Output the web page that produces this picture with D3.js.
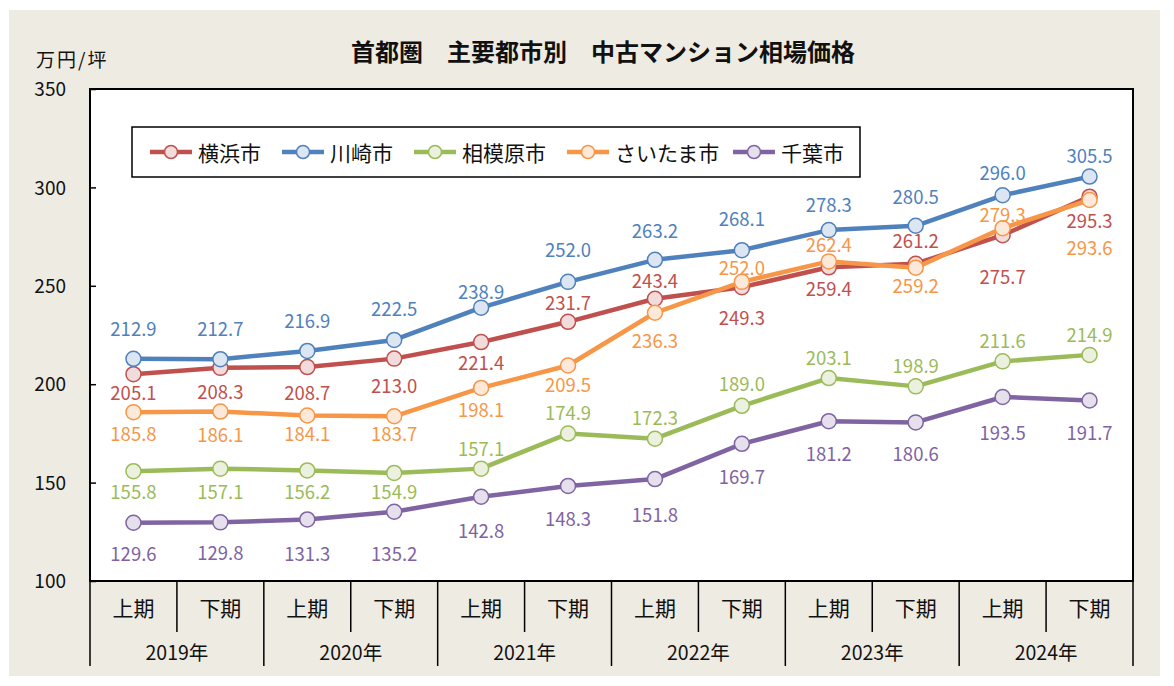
<!DOCTYPE html>
<html><head><meta charset="utf-8">
<script src="https://cdn.jsdelivr.net/npm/d3@7"></script>
<style>html,body{margin:0;padding:0;background:#fff;}svg{display:block;}</style>
</head><body>
<script>
const years = ["2019年","2020年","2021年","2022年","2023年","2024年"];
const halves = ["上期","下期"];
const periods = years.flatMap(y => halves.map(h => y + h));
const seriesNames = ["横浜市","川崎市","相模原市","さいたま市","千葉市"];
const yokohama   = [205.1,208.3,208.7,213.0,221.4,231.7,243.4,249.3,259.4,261.2,275.7,295.3];
const kawasaki   = [212.9,212.7,216.9,222.5,238.9,252.0,263.2,268.1,278.3,280.5,296.0,305.5];
const sagamihara = [155.8,157.1,156.2,154.9,157.1,174.9,172.3,189.0,203.1,198.9,211.6,214.9];
const saitama    = [185.8,186.1,184.1,183.7,198.1,209.5,236.3,252.0,262.4,259.2,279.3,293.6];
const chiba      = [129.6,129.8,131.3,135.2,142.8,148.3,151.8,169.7,181.2,180.6,193.5,191.7];
const yTicks = [100,150,200,250,300,350];

// layout / style (not data)
const colors = ["#C0504D","#4F81BD","#9BBB59","#F79646","#8064A2"];
const fills  = ["#F2DCDB","#DCE6F2","#EBF1DE","#FDE9D9","#E5E0EC"];
const labelDy = [
  [18,23,25,26,20,-20,-19,30,21,-24,41,23],
  [-31,-31,-31,-32,-17,-33,-30,-32,-26,-30,-23,-22],
  [20,22,21,18,-21,-22,-22,-23,-21,-21,-21,-21],
  [21,22,18,17,21,18,27,-15,-17,17,-14,47],
  [30,30,34,41,33,32,35,32,32,31,35,31]
];
const legendX = [150,282,414,567,733];

const W=1174,H=686;
const L=90,R=1133,T=89,B=581;
const svg = d3.select("body").append("svg").attr("width",W).attr("height",H)
  .style("font-family","'Noto Sans CJK JP','Noto Sans',sans-serif");

svg.append("rect").attr("x",9).attr("y",10).attr("width",1151).attr("height",666).attr("fill","#EEEBE2");
svg.append("rect").attr("x",L).attr("y",T).attr("width",R-L).attr("height",B-T).attr("fill","#fff");

const x = d3.scaleBand().domain(periods).range([L,R]).padding(0);
const y = d3.scaleLinear().domain([100,350]).range([B,T]);

// title
svg.append("text").attr("x",603).attr("y",50).attr("text-anchor","middle").attr("dominant-baseline","central")
  .attr("font-size",24).attr("font-weight","bold").attr("fill","#111").text("首都圏　主要都市別　中古マンション相場価格");
svg.append("text").attr("x",36).attr("y",58).attr("dominant-baseline","central")
  .attr("font-size",19).attr("letter-spacing",2).attr("fill","#111").text("万円/坪");

// y axis
const yAxis = d3.axisLeft(y).tickValues(yTicks).tickSize(-6).tickPadding(12).tickFormat(d3.format("d"));
const ga = svg.append("g").attr("transform",`translate(${L},0)`).call(yAxis);
ga.select(".domain").remove();
ga.selectAll(".tick line").attr("stroke","#000").attr("stroke-width",1.5);
ga.selectAll(".tick text").attr("font-size",19).attr("fill","#111").attr("x",-24).attr("dy","0.35em")
  .style("font-family","'Noto Sans CJK JP',sans-serif");

// plot border
svg.append("rect").attr("x",L).attr("y",T).attr("width",R-L).attr("height",B-T)
  .attr("fill","none").attr("stroke","#000").attr("stroke-width",2);

// x axis categories
const bw = x.bandwidth();
periods.forEach((p,i)=>{
  const x0 = x(p);
  const isYearStart = i % 2 === 0;
  svg.append("line").attr("x1",x0).attr("x2",x0).attr("y1",B).attr("y2",isYearStart?666:632)
    .attr("stroke","#000").attr("stroke-width",1.5);
  svg.append("text").attr("x",x0+bw/2).attr("y",607).attr("text-anchor","middle").attr("dominant-baseline","central")
    .attr("font-size",21).attr("fill","#111").text(halves[i%2]);
});
svg.append("line").attr("x1",R).attr("x2",R).attr("y1",B).attr("y2",666).attr("stroke","#000").attr("stroke-width",1.5);
years.forEach((yr,j)=>{
  const x0 = x(periods[j*2]);
  svg.append("text").attr("x",x0+bw).attr("y",651).attr("text-anchor","middle").attr("dominant-baseline","central")
    .attr("font-size",19.5).attr("fill","#111").text(yr);
});

// series
const allSeries = [yokohama,kawasaki,sagamihara,saitama,chiba];
const cx = p => x(p)+bw/2;
const line = d3.line().x((d,i)=>cx(periods[i])).y(d=>y(d));
allSeries.forEach((vals,s)=>{
  const g = svg.append("g");
  g.append("path").datum(vals).attr("d",line).attr("fill","none").attr("stroke",colors[s]).attr("stroke-width",4.5)
    .attr("stroke-linejoin","round");
  g.selectAll("circle").data(vals).join("circle").attr("cx",(d,i)=>cx(periods[i])).attr("cy",d=>y(d)).attr("r",7.5)
    .attr("fill",fills[s]).attr("stroke",colors[s]).attr("stroke-width",1.5);
});
allSeries.forEach((vals,s)=>{
  svg.append("g").selectAll("text").data(vals).join("text")
    .attr("x",(d,i)=>cx(periods[i])).attr("y",(d,i)=>y(d)+labelDy[s][i])
    .attr("text-anchor","middle").attr("dominant-baseline","central")
    .attr("font-size",18.5).attr("fill",colors[s]).text(d=>d.toFixed(1));
});

// legend
svg.append("rect").attr("x",132).attr("y",127).attr("width",728).attr("height",50).attr("fill","#fff")
  .attr("stroke","#000").attr("stroke-width",1.5);
seriesNames.forEach((n,s)=>{
  const lx = legendX[s], ly = 152;
  svg.append("line").attr("x1",lx).attr("x2",lx+42).attr("y1",ly).attr("y2",ly).attr("stroke",colors[s]).attr("stroke-width",4.5);
  svg.append("circle").attr("cx",lx+21).attr("cy",ly).attr("r",6.5).attr("fill",fills[s]).attr("stroke",colors[s]).attr("stroke-width",1.5);
  svg.append("text").attr("x",lx+48).attr("y",ly).attr("dominant-baseline","central").attr("font-size",21).attr("fill","#111").text(n);
});
</script>
</body></html>
